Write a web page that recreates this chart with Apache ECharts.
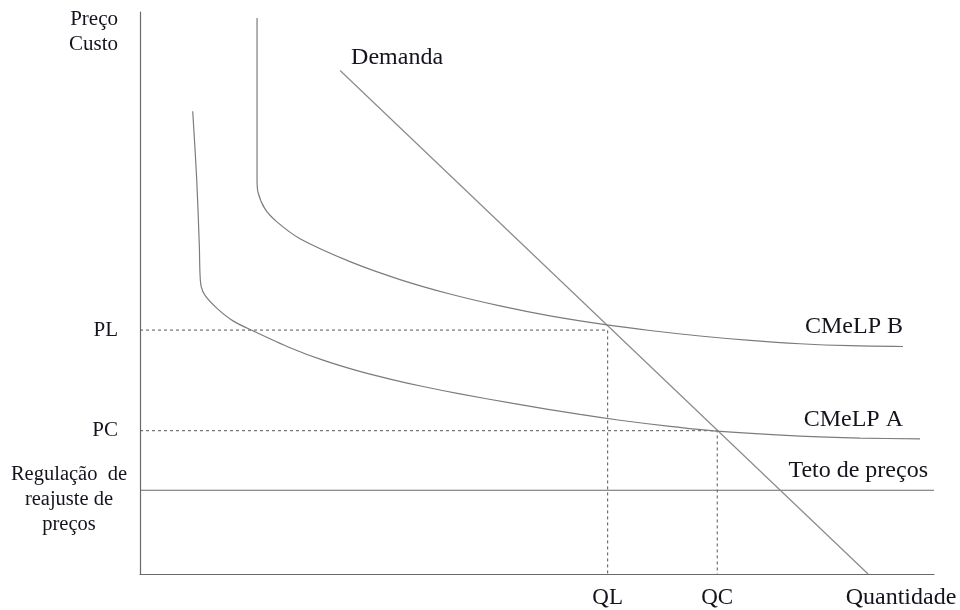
<!DOCTYPE html>
<html>
<head>
<meta charset="utf-8">
<script src="https://cdn.jsdelivr.net/npm/echarts@6/dist/echarts.min.js"></script>
<style>
html,body{margin:0;padding:0;background:#fff;}
#chart{width:960px;height:610px;}
</style>
</head>
<body>
<div id="chart"></div>
<script>
// Key values (axis scale 0-100 on both axes)
const PL = 43.4;
const PC = 25.5;
const QL = 58.9;
const QC = 72.7;
const TETO = 14.9;

// Curves [quantity, price]
const cmelpB = [[14.74,98.94],[14.74,84.42],[14.74,70.27],[14.86,67.96],[15.74,64.96],[17.25,62.65],[20.15,59.65],[26.45,55.58],[32.75,52.39],[39.04,49.82],[45.34,47.7],[51.64,45.93],[58.82,44.32],[64.23,43.33],[70.53,42.35],[76.83,41.56],[83.12,40.97],[89.42,40.62],[96.1,40.48]];
const cmelpA = [[6.64,82.35],[7.14,70.27],[7.47,58.46],[7.56,53.27],[7.71,51.15],[8.19,49.56],[9.7,47.26],[11.71,45.04],[14.23,43.27],[18.89,40.27],[23.05,38.05],[27.33,36.19],[31.49,34.69],[35.64,33.36],[40.3,32.04],[46.98,30.35],[55.42,28.39],[60.45,27.36],[66.75,26.27],[72.67,25.43],[83.12,24.55],[90.68,24.19],[98.24,24.04]];
const demanda = [[91.7,0],[25.2,89.6]];
const teto = [[0,TETO],[100,TETO]];
const guidePL = [[0,PL],[QL,PL],[QL,0]];
const guidePC = [[0,PC],[QC,PC],[QC,0]];

const xTickLabels = ['QL','QC'];
const yTickLabels = ['PC','PL'];

const FONT = '"Liberation Serif","Times New Roman",serif';
const TXT = '#14141e';
const AXIS = '#6a6a6a';
const CURVE = '#7c7c7c';

function labelPoint(coord, text, align, offset, extra) {
  return {
    symbol: 'circle', symbolSize: 0, silent: true,
    data: [{ coord: coord, name: text }],
    label: Object.assign({
      show: true, position: 'inside', formatter: '{b}',
      align: align, verticalAlign: 'middle', offset: offset,
      color: TXT, fontFamily: FONT, fontSize: 24
    }, extra || {})
  };
}

const chart = echarts.init(document.getElementById('chart'), null, {renderer: 'canvas'});
chart.setOption({
  animation: false,
  backgroundColor: '#ffffff',
  grid: {left: 140, right: 26, top: 12, bottom: 33, containLabel: false},
  xAxis: {
    type: 'value', min: 0, max: 100,
    splitLine: {show: false},
    axisTick: {show: false},
    axisLine: {show: true, lineStyle: {color: AXIS, width: 1.2}},
    axisLabel: {
      show: true, customValues: [QL, QC], margin: 12,
      formatter: v => (Math.abs(v - QL) < 1e-6 ? xTickLabels[0] : xTickLabels[1]),
      color: TXT, fontFamily: FONT, fontSize: 23
    },
    name: 'Quantidade', nameLocation: 'end', nameGap: -33,
    nameTextStyle: {color: TXT, fontFamily: FONT, fontSize: 24, align: 'center', verticalAlign: 'top', padding: [12,0,0,0]}
  },
  yAxis: {
    type: 'value', min: 0, max: 100,
    splitLine: {show: false},
    axisTick: {show: false},
    axisLine: {show: true, lineStyle: {color: AXIS, width: 1.2}},
    axisLabel: {
      show: true, customValues: [PC, PL], margin: 22,
      formatter: v => (Math.abs(v - PC) < 1e-6 ? yTickLabels[0] : yTickLabels[1]),
      color: TXT, fontFamily: FONT, fontSize: 21
    },
    name: 'Preço\nCusto', nameLocation: 'end', nameGap: -20,
    nameTextStyle: {color: TXT, fontFamily: FONT, fontSize: 21, lineHeight: 25, align: 'right', verticalAlign: 'middle', padding: [0,22,0,0]}
  },
  series: [
    {type: 'line', data: guidePL, showSymbol: false, silent: true,
     lineStyle: {color: '#555', width: 1, type: [3,3]}},
    {type: 'line', data: guidePC, showSymbol: false, silent: true,
     lineStyle: {color: '#555', width: 1, type: [3,3]}},
    {type: 'line', data: teto, showSymbol: false, silent: true,
     lineStyle: {color: AXIS, width: 1.2},
     markPoint: {
       symbol: 'circle', symbolSize: 0, silent: true,
       data: [
         {coord: [100, TETO], name: 'Teto de preços',
          label: {show: true, position: 'inside', formatter: '{b}', align: 'right', verticalAlign: 'middle', offset: [-6,-20], color: TXT, fontFamily: FONT, fontSize: 24}},
         {coord: [0, TETO], name: 'Regulação  de\nreajuste de\npreços',
          label: {show: true, position: 'inside', formatter: '{b}', align: 'center', verticalAlign: 'middle', offset: [-71, 9], lineHeight: 25, color: TXT, fontFamily: FONT, fontSize: 20.5}}
       ]
     }},
    {type: 'line', data: demanda, showSymbol: false, silent: true,
     lineStyle: {color: '#8a8a8a', width: 1.2},
     markPoint: labelPoint(demanda[1], 'Demanda', 'left', [11,-13])},
    {type: 'line', data: cmelpB, showSymbol: false, silent: true, smooth: 0.3,
     lineStyle: {color: CURVE, width: 1.2},
     markPoint: labelPoint(cmelpB[cmelpB.length-1], 'CMeLP B', 'right', [0,-20])},
    {type: 'line', data: cmelpA, showSymbol: false, silent: true, smooth: 0.3,
     lineStyle: {color: CURVE, width: 1.2},
     markPoint: labelPoint(cmelpA[cmelpA.length-1], 'CMeLP A', 'right', [-17,-19])}
  ]
});
</script>
</body>
</html>
